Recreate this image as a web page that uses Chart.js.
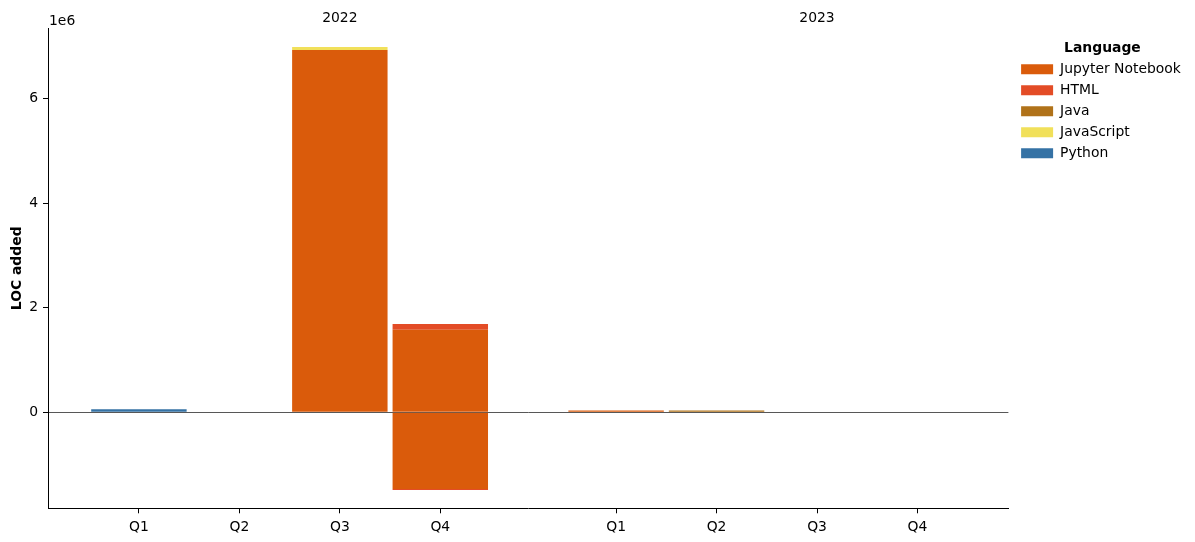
<!DOCTYPE html>
<html>
<head>
<meta charset="utf-8">
<script src="https://cdn.jsdelivr.net/npm/chart.js@4/dist/chart.umd.min.js"></script>
<style>
  html, body { margin: 0; padding: 0; background: #fff; }
  #wrap { width: 1195px; height: 542px; position: relative; }
</style>
</head>
<body>
<div id="wrap"><canvas id="c"></canvas></div>
<script>
// ---- data ----
const quarterLabels = ['Q1', 'Q2', 'Q3', 'Q4', 'Q1', 'Q2', 'Q3', 'Q4'];
const quarterPositions = [0, 1, 2, 3, 4.75, 5.75, 6.75, 7.75];
const yearLabels = ['2022', '2023'];
const yearPositions = [2, 6.75];
const languages = ['Jupyter Notebook', 'HTML', 'Java', 'JavaScript', 'Python'];
const languageColors = ['#DA5B0B', '#E34C26', '#B07219', '#F1E05A', '#3572A5'];

const jupyterAdded   = [0, 0, 6930000, 1580000, 32000, 0, 0, 0];
const htmlAdded      = [0, 0, 0, 110000, 0, 0, 0, 0];
const javaAdded      = [0, 0, 0, 0, 0, 32000, 0, 0];
const jsAdded        = [0, 0, 60000, 0, 0, 0, 0, 0];
const pythonAdded    = [57000, 0, 0, 0, 0, 0, 0, 0];

const jupyterRemoved = [0, 0, 0, -1467000, 0, 0, 0, 0];
const htmlRemoved    = [0, 0, 0, -20000, 0, 0, 0, 0];
const javaRemoved    = [0, 0, 0, 0, 0, 0, 0, 0];
const jsRemoved      = [0, 0, 0, 0, 0, 0, 0, 0];
const pythonRemoved  = [0, 0, 0, 0, 0, 0, 0, 0];

const yTickValues = [0, 2000000, 4000000, 6000000];
const yScaleFactor = 1e6;
const yOffsetLabel = '1e6';
const yTitle = 'LOC added';
const legendTitle = 'Language';

const addedSeries = [jupyterAdded, htmlAdded, javaAdded, jsAdded, pythonAdded];
const removedSeries = [jupyterRemoved, htmlRemoved, javaRemoved, jsRemoved, pythonRemoved];

// ---- build datasets ----
const toPoints = vals => quarterPositions.map((x, i) => ({ x: x, y: vals[i] }));
const datasets = [];
languages.forEach((lang, i) => {
  datasets.push({ label: lang, data: toPoints(addedSeries[i]), backgroundColor: languageColors[i], borderWidth: 0, stack: 's' });
});
languages.forEach((lang, i) => {
  datasets.push({ label: lang + ' (removed)', data: toPoints(removedSeries[i]), backgroundColor: languageColors[i], borderWidth: 0, stack: 's' });
});

Chart.defaults.font.family = "'DejaVu Sans', sans-serif";
Chart.defaults.font.size = 13.9;
Chart.defaults.color = '#000';

const offsetTextPlugin = {
  id: 'offsetText',
  afterDraw(chart) {
    const { ctx, chartArea } = chart;
    ctx.save();
    ctx.font = "13.9px 'DejaVu Sans', sans-serif";
    ctx.fillStyle = '#000';
    ctx.textAlign = 'left';
    ctx.textBaseline = 'middle';
    ctx.fillText(yOffsetLabel, chartArea.left + 1, chartArea.top - 7);
    ctx.restore();
  }
};

new Chart(document.getElementById('c'), {
  type: 'bar',
  data: { datasets: datasets },
  plugins: [offsetTextPlugin],
  options: {
    responsive: true,
    maintainAspectRatio: false,
    animation: false,
    layout: { padding: { left: 0, right: 4.15, top: 0.3, bottom: 0 } },
    datasets: { bar: { categoryPercentage: 1, barPercentage: 0.95 } },
    plugins: {
      tooltip: { enabled: false },
      legend: {
        position: 'right',
        align: 'start',
        title: {
          display: true,
          text: legendTitle,
          font: { weight: 'bold', size: 13.9 },
          padding: { top: 41, bottom: -2.7 }
        },
        labels: {
          boxWidth: 32,
          boxHeight: 10,
          padding: 7.1,
          color: '#000',
          filter: item => item.datasetIndex < languages.length
        }
      }
    },
    scales: {
      x: {
        type: 'linear',
        position: 'bottom',
        offset: false,
        min: -0.905,
        max: 8.655,
        grid: { display: true, drawOnChartArea: false, offset: false, tickLength: 5, tickColor: '#000', tickWidth: 1 },
        border: { display: true, color: '#000', width: 1 },
        ticks: {
          autoSkip: false, maxRotation: 0, padding: 5.5,
          callback: (v, i) => quarterLabels[i]
        },
        afterBuildTicks: s => { s.ticks = quarterPositions.map(v => ({ value: v })); },
        afterFit: s => { s.height = 33.7; }
      },
      xTop: {
        type: 'linear',
        position: 'top',
        offset: false,
        min: -0.905,
        max: 8.655,
        grid: { display: false, drawTicks: false },
        border: { display: false },
        ticks: {
          autoSkip: false, maxRotation: 0, padding: 2,
          callback: (v, i) => yearLabels[i]
        },
        afterBuildTicks: s => { s.ticks = yearPositions.map(v => ({ value: v })); },
        afterFit: s => { s.height = 28; }
      },
      y: {
        type: 'linear',
        position: 'left',
        stacked: true,
        min: -1837000,
        max: 7346000,
        z: 1,
        grid: {
          drawOnChartArea: true,
          color: c => (c.tick && c.tick.value === 0 ? '#444' : 'rgba(0,0,0,0)'),
          lineWidth: 0.9,
          tickLength: 5,
          tickColor: '#000',
          tickWidth: 1
        },
        border: { display: true, color: '#000', width: 1 },
        ticks: {
          padding: 5,
          callback: v => String(v / yScaleFactor)
        },
        afterBuildTicks: s => { s.ticks = yTickValues.map(v => ({ value: v })); },
        title: {
          display: true,
          text: yTitle,
          font: { weight: 'bold', size: 13.9 },
          padding: { top: 9, bottom: 4 }
        },
        afterFit: s => { s.width = 48; }
      },
      rightGap: {
        type: 'linear',
        position: 'right',
        display: true,
        grid: { display: false, drawTicks: false },
        border: { display: false },
        ticks: { display: false },
        afterFit: s => { s.width = 5.6; }
      }
    }
  }
});
</script>
</body>
</html>
